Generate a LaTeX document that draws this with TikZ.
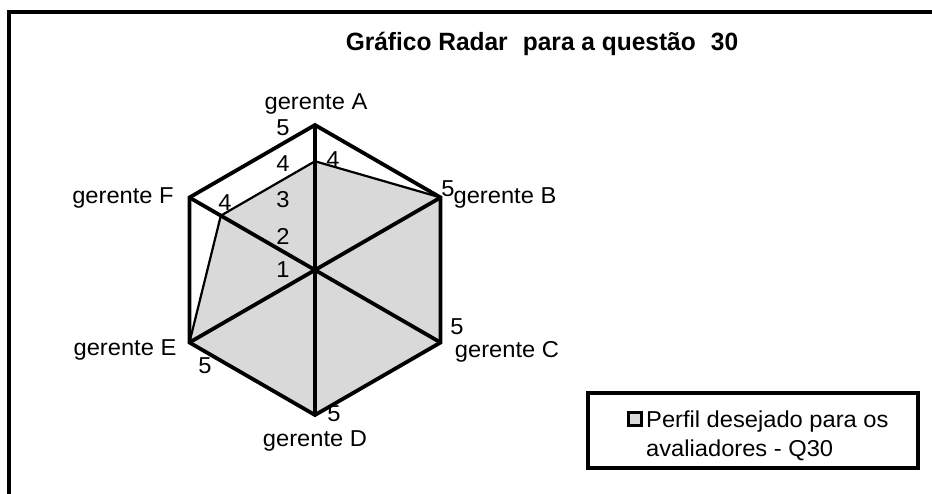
\documentclass[tikz,border=0pt]{standalone}
\usepackage{fontspec}
\setmainfont{Liberation Sans}
\newfontfamily\labfont[FakeStretch=1.03]{Liberation Sans}
\newfontfamily\titfont[FakeStretch=0.98]{Liberation Sans}
\definecolor{radargray}{RGB}{217,217,217}
\tikzset{
  lab/.style={font=\labfont\fontsize{23}{26}\selectfont, inner sep=0pt},
  grid/.style={line width=3.8pt, line join=miter, black},
  dataline/.style={line width=2.2pt, line join=round, black},
  frameline/.style={line width=3.5pt, black}
}
\begin{document}
\begin{tikzpicture}[x=1pt,y=-1pt]
\useasboundingbox (0,0) rectangle (932,493);
% outer chart frame (cut off at right and bottom)
\coordinate (fbl) at (9,500);
\coordinate (ftl) at (9,12);
\coordinate (ftr) at (940,12);
\draw[frameline] (fbl) -- (ftl) -- (ftr);
% title
\node[inner sep=0pt, font=\titfont\bfseries\fontsize{25}{29}\selectfont] (title) at (542,44) {Gráfico Radar\,\, para a questão\,\, 30};
% radar geometry
\coordinate (O) at (315,270);
\coordinate (A) at (315,125);
\coordinate (B) at (440.57,197.5);
\coordinate (C) at (440.57,342.5);
\coordinate (D) at (315,415);
\coordinate (E) at (189.43,342.5);
\coordinate (F) at (189.43,197.5);
\coordinate (A4) at (315,161.25);
\coordinate (F4) at (220.82,215.63);
% data polygon fill
\fill[radargray] (A4) -- (B) -- (C) -- (D) -- (E) -- (F4) -- cycle;
% grid
\draw[grid] (A) -- (B) -- (C) -- (D) -- (E) -- (F) -- cycle;
\draw[grid] (A) -- (D);
\draw[grid] (B) -- (E);
\draw[grid] (C) -- (F);
% data outline
\draw[dataline] (B) -- (A4) -- (F4) -- (E);
% axis labels
\node[lab] (lA) at (316,104) {gerente A};
\node[lab] (lB) at (505,198) {gerente B};
\node[lab] (lC) at (507,352) {gerente C};
\node[lab] (lD) at (315,441) {gerente D};
\node[lab] (lE) at (125,350) {gerente E};
\node[lab] (lF) at (123,198) {gerente F};
% scale labels
\node[lab] (s1) at (283,270) {1};
\node[lab] (s2) at (283,236) {2};
\node[lab] (s3) at (283,200) {3};
\node[lab] (s4) at (283,164) {4};
\node[lab] (s5) at (283,128) {5};
% data labels
\node[lab] (dA) at (333,160) {4};
\node[lab] (dB) at (448,189) {5};
\node[lab] (dC) at (457,327) {5};
\node[lab] (dD) at (334,414) {5};
\node[lab] (dE) at (205,366) {5};
\node[lab] (dF) at (225,203) {4};
% legend
\node[draw, line width=3.5pt, minimum width=330pt, minimum height=75pt, inner sep=0pt] (leg) at (753,430.5) {};
\node[draw=black, line width=3.2pt, fill=radargray, minimum size=13pt, inner sep=0pt] (legmark) at (635,419) {};
\node[lab, anchor=west] (legt1) at (646,422) {Perfil desejado para os};
\node[lab, anchor=west] (legt2) at (646,450) {avaliadores - Q30};
\end{tikzpicture}
\end{document}
